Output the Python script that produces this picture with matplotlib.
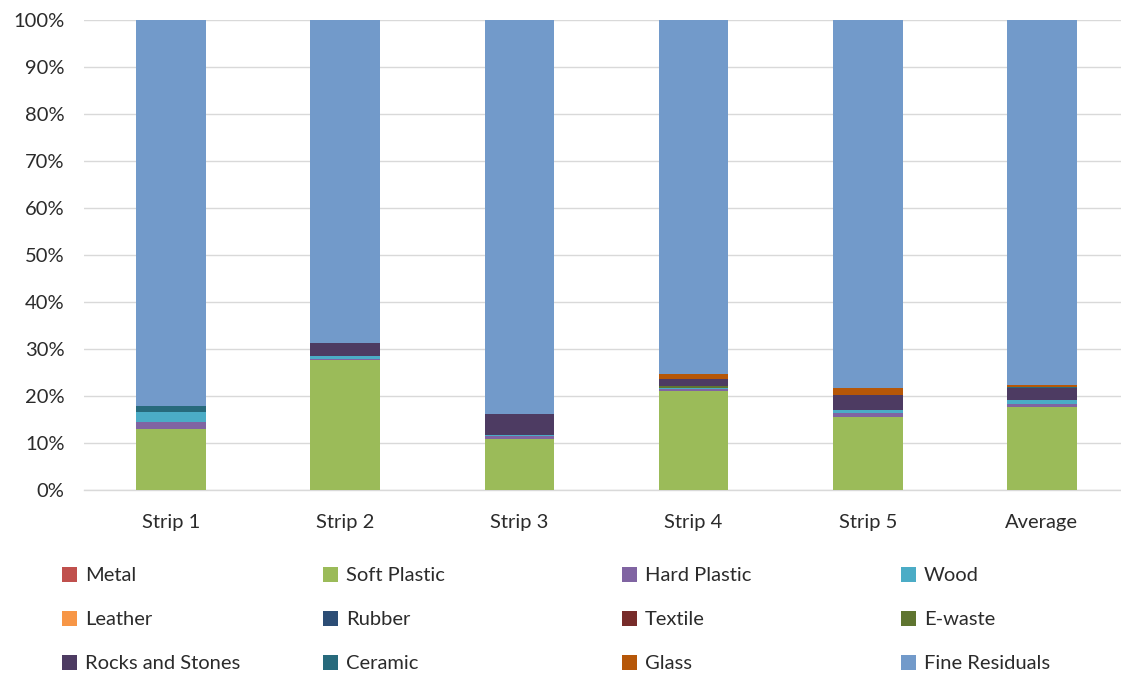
import matplotlib.pyplot as plt
from matplotlib.patches import Patch
from matplotlib.ticker import PercentFormatter
import numpy as np

plt.rcParams['font.family'] = ['Lato', 'DejaVu Sans']

# 各条带的组成（%），自下而上堆叠
strips = ['Strip 1', 'Strip 2', 'Strip 3', 'Strip 4', 'Strip 5', 'Average']
metal = [0, 0, 0, 0, 0, 0]
soft_plastic = [12.9, 27.7, 10.85, 21.05, 15.6, 17.6]
hard_plastic = [1.6, 0.2, 0.6, 0.45, 0.85, 0.75]
wood = [2.0, 0.6, 0.35, 0.3, 0.55, 0.75]
leather = [0, 0, 0, 0, 0, 0]
rubber = [0, 0, 0, 0, 0, 0]
textile = [0, 0, 0, 0, 0, 0]
e_waste = [0, 0, 0, 0.3, 0, 0]
rocks_stones = [0, 2.7, 4.3, 1.6, 3.2, 2.7]
ceramic = [1.4, 0, 0, 0, 0, 0.2]
glass = [0, 0, 0, 0.95, 1.4, 0.4]
fine_residuals = [82.1, 68.8, 83.9, 75.35, 78.4, 77.6]

names = ['Metal', 'Soft Plastic', 'Hard Plastic', 'Wood', 'Leather', 'Rubber',
         'Textile', 'E-waste', 'Rocks and Stones', 'Ceramic', 'Glass', 'Fine Residuals']
series = [metal, soft_plastic, hard_plastic, wood, leather, rubber,
          textile, e_waste, rocks_stones, ceramic, glass, fine_residuals]
colors = ['#C0504D', '#9BBB59', '#8064A2', '#4BACC6', '#F79646', '#2C4D75',
          '#772C2A', '#5F7530', '#4D3B62', '#276A7C', '#B65708', '#729ACA']

fig = plt.figure(figsize=(11.21, 6.73), dpi=100)
ax = fig.add_axes([84 / 1121, 183 / 673, 1045 / 1121, 470 / 673])

x = np.arange(len(strips))
bottom = np.zeros(len(strips))
for name, vals, c in zip(names, series, colors):
    vals = np.array(vals, dtype=float)
    ax.bar(x, vals, width=0.4, bottom=bottom, color=c, label=name, zorder=3)
    bottom += vals

ax.set_xlim(-0.5, len(strips) - 0.5)
ax.set_ylim(0, 100)
ax.set_yticks(np.arange(0, 101, 10))
ax.yaxis.set_major_formatter(PercentFormatter(decimals=0))
ax.set_xticks(x)
ax.set_xticklabels(strips)
ax.tick_params(axis='both', length=0, labelsize=14.5, colors='#2b2b2b')
ax.tick_params(axis='y', pad=14)
ax.tick_params(axis='x', pad=17)
ax.grid(axis='y', color='#D9D9D9', linewidth=1, zorder=0)
for s in ['top', 'right', 'left']:
    ax.spines[s].set_visible(False)
ax.spines['bottom'].set_color('#D9D9D9')
ax.spines['bottom'].set_linewidth(1)

# 图例：4 列，每列 3 项，按行排列
col_x = [62, 323, 622, 901]
for j in range(4):
    handles = [Patch(facecolor=colors[j + 4 * r], label=names[j + 4 * r]) for r in range(3)]
    fig.legend(handles=handles, loc='upper left',
               bbox_to_anchor=(col_x[j] / 1121, 1 - 567 / 673),
               frameon=False, fontsize=14.5, handlelength=0.75, handleheight=0.75,
               handletextpad=0.38, labelspacing=1.32, borderpad=0, borderaxespad=0,
               labelcolor='#2b2b2b')

fig.savefig('out.png', dpi=100)
